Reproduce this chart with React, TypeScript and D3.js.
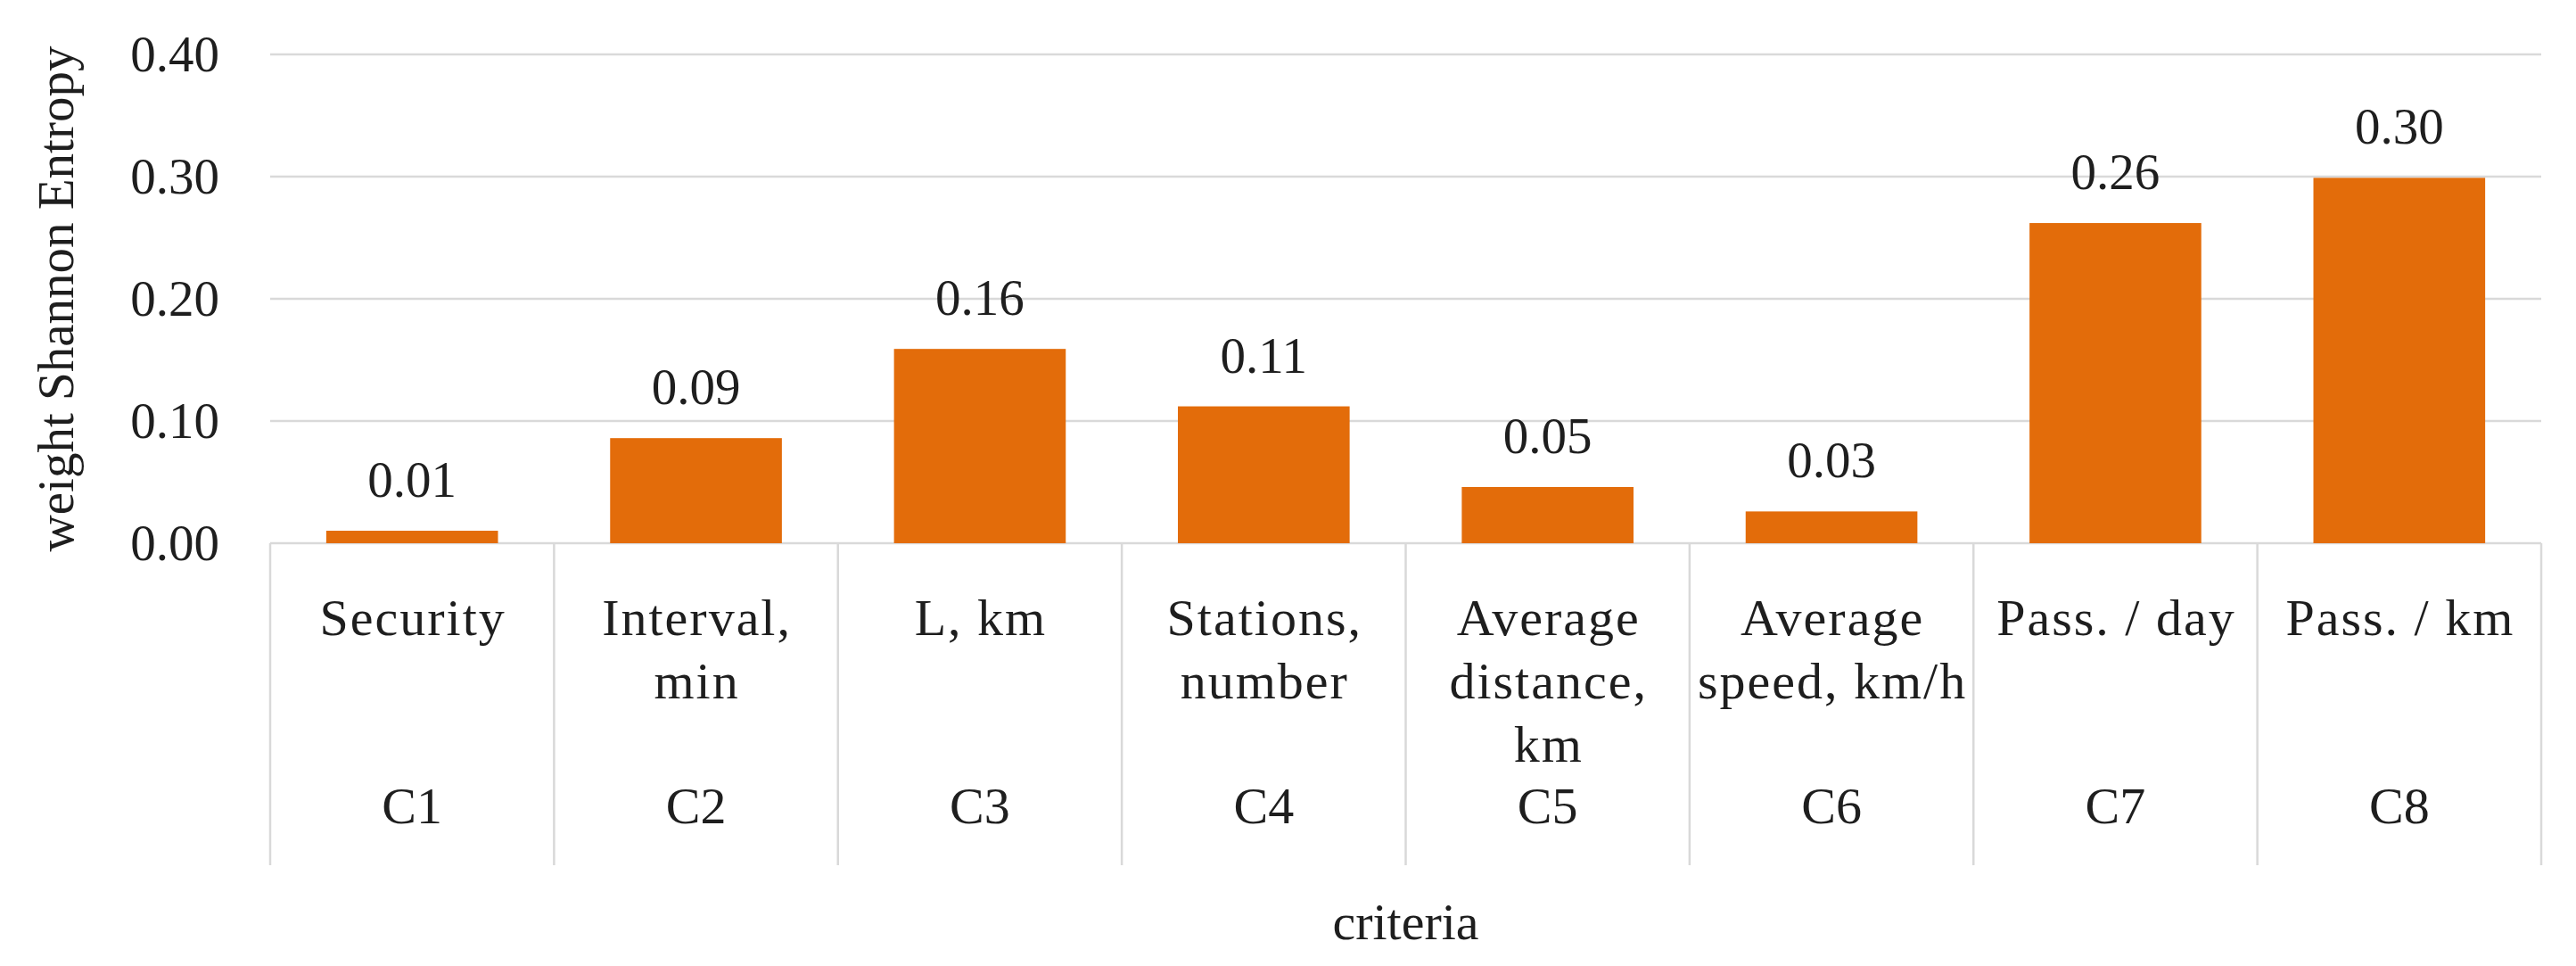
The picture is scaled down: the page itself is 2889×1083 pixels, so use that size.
import React from "react";
import * as d3 from "d3";

const codes = ["C1", "C2", "C3", "C4", "C5", "C6", "C7", "C8"];
const names: string[][] = [
  ["Security"],
  ["Interval,", "min"],
  ["L, km"],
  ["Stations,", "number"],
  ["Average", "distance,", "km"],
  ["Average", "speed, km/h"],
  ["Pass. / day"],
  ["Pass. / km"],
];
const weights = [0.0102, 0.086, 0.159, 0.112, 0.046, 0.026, 0.262, 0.299];
const yTicks = [0, 0.1, 0.2, 0.3, 0.4];
const yTitle = "weight Shannon Entropy";
const xTitle = "criteria";

const W = 2889;
const H = 1083;
const FONT = "'Liberation Serif', 'Times New Roman', serif";
const TEXT = "#1e1e1e";
const GRID = "#d9d9d9";
const BAR = "#e36c0a";

export default function App() {
  const left = 303;
  const right = 2850;
  const y = d3.scaleLinear().domain([0, 0.4]).range([609, 61]);
  const x = d3
    .scaleBand<string>()
    .domain(codes)
    .range([left, right])
    .paddingInner(0.395)
    .paddingOuter(0.1975);
  const cat = d3.scaleBand<string>().domain(codes).range([left, right]).padding(0);
  const step = cat.step();
  const fmt = d3.format(".2f");
  const base = y(0);
  const sepBottom = 970;
  const line1 = 712;
  const lineH = 71;
  const codeY = 923;

  return (
    <svg width={W} height={H} style={{ display: "block", background: "#fff" }}>
      <style>{`body{margin:0}`}</style>
      <rect x={0} y={0} width={W} height={H} fill="#fff" />
      {yTicks.map((t) => (
        <g key={t}>
          <line x1={left} x2={right} y1={y(t)} y2={y(t)} stroke={GRID} strokeWidth={2.5} />
          <text
            x={246}
            y={y(t) + 19}
            textAnchor="end"
            fontFamily={FONT}
            fontSize={57}
            fill={TEXT}
          >
            {fmt(t)}
          </text>
        </g>
      ))}
      {d3.range(codes.length + 1).map((i) => (
        <line
          key={"s" + i}
          x1={left + i * step}
          x2={left + i * step}
          y1={base}
          y2={sepBottom}
          stroke={GRID}
          strokeWidth={2.5}
        />
      ))}
      {codes.map((c, i) => {
        const v = weights[i];
        const bx = x(c)!;
        const cx = cat(c)! + step / 2;
        return (
          <g key={c}>
            <rect x={bx} y={y(v)} width={x.bandwidth()} height={base - y(v)} fill={BAR} />
            <text
              x={bx + x.bandwidth() / 2}
              y={y(v) - 38}
              textAnchor="middle"
              fontFamily={FONT}
              fontSize={57}
              fill={TEXT}
            >
              {fmt(v)}
            </text>
            {names[i].map((ln, j) => (
              <text
                key={j}
                x={cx + 1}
                y={line1 + j * lineH}
                textAnchor="middle"
                fontFamily={FONT}
                fontSize={58}
                letterSpacing={2}
                fill={TEXT}
              >
                {ln}
              </text>
            ))}
            <text
              x={cx}
              y={codeY}
              textAnchor="middle"
              fontFamily={FONT}
              fontSize={58}
              fill={TEXT}
            >
              {c}
            </text>
          </g>
        );
      })}
      <text
        x={(left + right) / 2}
        y={1053}
        textAnchor="middle"
        fontFamily={FONT}
        fontSize={58}
        fill={TEXT}
      >
        {xTitle}
      </text>
      <text
        transform={`translate(82, ${(y(0) + y(0.4)) / 2}) rotate(-90)`}
        textAnchor="middle"
        fontFamily={FONT}
        fontSize={57}
        fill={TEXT}
      >
        {yTitle}
      </text>
    </svg>
  );
}
